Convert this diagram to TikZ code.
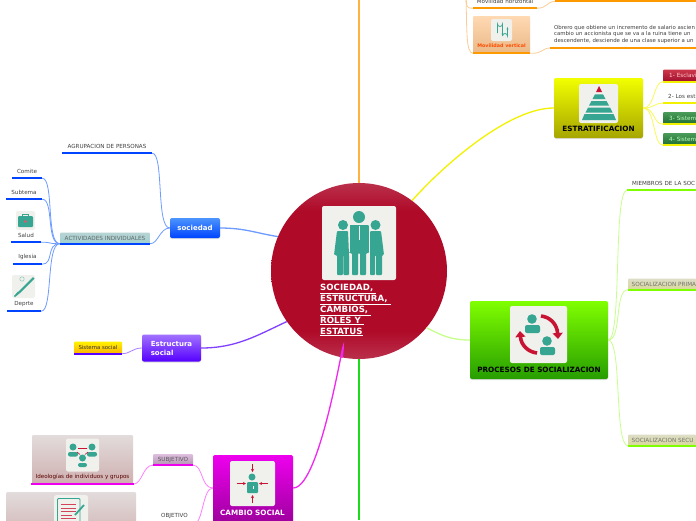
\documentclass[tikz,border=0pt]{standalone}
\usepackage{fontspec}
\setmainfont{DejaVu Sans}
\usetikzlibrary{arrows.meta,shadows}
\definecolor{crimson}{RGB}{175,10,40}
\definecolor{crimsonrim}{RGB}{186,48,76}
\definecolor{teal}{RGB}{54,166,146}
\definecolor{iconred}{RGB}{200,20,50}
\definecolor{iconbg}{RGB}{240,240,236}
\definecolor{orangeb}{RGB}{255,153,0}
\definecolor{orangel}{RGB}{250,205,150}
\definecolor{blueb}{RGB}{0,68,255}
\definecolor{bluel}{RGB}{110,155,255}
\definecolor{yellowb}{RGB}{242,242,0}
\definecolor{yellowl}{RGB}{250,250,90}
\definecolor{greenb}{RGB}{128,255,0}
\definecolor{greenl}{RGB}{200,255,140}
\definecolor{magentab}{RGB}{238,0,238}
\definecolor{magental}{RGB}{255,125,255}
\definecolor{purpleb}{RGB}{85,0,255}
\definecolor{purplel}{RGB}{170,125,255}
\definecolor{tagredt}{RGB}{205,55,75}
\definecolor{tagredb}{RGB}{160,15,45}
\definecolor{taggreent}{RGB}{75,155,90}
\definecolor{taggreenb}{RGB}{30,110,50}
\pgfdeclareverticalshading{rim}{100bp}{color(0bp)=(crimsonrim); color(25bp)=(crimsonrim); color(33bp)=(crimson); color(67bp)=(crimson); color(75bp)=(crimsonrim); color(100bp)=(crimsonrim)}

\begin{document}
\begin{tikzpicture}[x=1pt,y=-1pt,
          txt/.style={font=\fontsize{5.6}{6}\selectfont,text=black!75,inner sep=0pt,minimum height=14pt},
          tag/.style={rounded corners=1pt,inner sep=0pt,font=\fontsize{5.7}{6}\selectfont},
          box/.style={rounded corners=2pt,inner sep=0pt,drop shadow={shadow xshift=0pt,shadow yshift=-1pt,opacity=.25}},
          title/.style={font=\fontsize{7.25}{8}\selectfont\bfseries,inner sep=0pt},
          icon/.style={fill=iconbg,rounded corners=2pt,inner sep=0pt},
          main/.style={line width=1.3pt,draw=#1},
          sub/.style={line width=.8pt,draw=#1},
          bar/.style={line width=2pt,draw=#1},
          fig/.style={fill=teal,draw=none},
          redarrow/.style={-{Stealth[length=3pt,width=3pt]},iconred,line width=.6pt}
        ]
        \clip (0,0) rectangle (696,520);
        \fill[white] (0,0) rectangle (696,520);
        % links from the centre
        \coordinate (topend) at (359,0);
        \coordinate (bottomend) at (359,520);
        \node[circle,minimum size=176pt,inner sep=0pt] (centre) at (359,271) {};
        \draw[main=orangeb!75] (centre.north) -- (topend);
        \draw[main=green!85!black!90] (centre.south) -- (bottomend);
        \shade[shading=rim] (359,271) circle[radius=88];
        % centre
        \node[icon,minimum size=74pt] (people) at (359,243) {};
        \fill[fig] (359,217) circle[radius=6];
        \fill[fig,rounded corners=1pt] (349,225) -- (369,225) -- (369,253) -- (366,253) -- (366,275) -- (360,275) -- (360,253) -- (358,253) -- (358,275) -- (352,275) -- (352,253) -- (349,253) -- cycle;
        \fill[fig] (343,225) circle[radius=5];
        \fill[fig,rounded corners=1pt] (337,231) -- (348,231) -- (349,255) -- (349,275) -- (343.5,275) -- (343.5,255) -- (343,255) -- (343,275) -- (337,275) -- (337,255) -- (334,255) -- cycle;
        \fill[fig] (375.5,225) circle[radius=5];
        \fill[fig,rounded corners=1pt] (370,231) -- (381,231) -- (384,255) -- (382,255) -- (382,275) -- (376,275) -- (376,255) -- (375,255) -- (375,275) -- (370,275) -- (370,255) -- cycle;
        \draw[iconbg,line width=.5pt] (349,225) -- (349,252) (369,225) -- (369,252) (359,226) -- (359,240);
        \node[anchor=west,align=left,inner sep=0pt,text=white,font=\fontsize{8.6}{11}\selectfont\bfseries] (centretext) at (320,310)
          {\underline{SOCIEDAD, }\\\underline{ESTRUCTURA, }\\\underline{CAMBIOS, }\\\underline{ROLES Y }\\\underline{ESTATUS}};
        % sociedad
        \node[box,top color=blue!60!cyan!70,bottom color=blueb,minimum width=50pt,minimum height=20pt,text=white,font=\fontsize{7}{9}\selectfont\bfseries] (sociedad) at (195,228) {sociedad};
        \node[txt,minimum width=90pt] (agrupacion) at (107,146) {AGRUPACION DE PERSONAS};
        \node[tag,top color=cyan!25!gray!45,bottom color=cyan!35!gray!55,minimum width=90pt,minimum height=11pt,text=black!60] (actividades) at (105,238) {ACTIVIDADES INDIVIDUALES};
        \node[txt,minimum width=30pt] (comite) at (27,171) {Comite};
        \node[txt,minimum width=36pt] (subtema) at (24,192) {Subtema};
        \node[icon,minimum size=19pt] (saludicon) at (25.5,220.5) {};
        \node[txt,minimum width=30pt] (salud) at (26,235) {Salud};
        \node[txt,minimum width=29pt] (iglesia) at (27.5,257) {Iglesia};
        \node[icon,minimum size=23pt] (deporteicon) at (23.5,286.5) {};
        \node[txt,minimum width=34pt] (deporte) at (24,304) {Deprte};
        \draw[main=bluel] (sociedad.east) .. controls +(25,0) and +(-20,-3) .. (centre.157);
        \draw[sub=bluel] (sociedad.west) .. controls +(-14,0) and +(12,0) .. (agrupacion.south east);
        \draw[sub=bluel] (sociedad.west) .. controls +(-10,0) and +(8,0) .. (actividades.south east);
        \foreach \leaf in {comite,subtema,salud,iglesia,deporte}
          {\draw[sub=bluel] (actividades.south west) .. controls +(-14,0) and +(12,0) .. (\leaf.south east);
           \draw[bar=blueb] (\leaf.south west) -- (\leaf.south east);}
        \draw[bar=blueb] (agrupacion.south west) -- (agrupacion.south east);
        \draw[bar=blueb] (actividades.south west) -- (actividades.south east);
        \fill[fig,rounded corners=1pt] (18,216) rectangle (33,227);
        \draw[teal,line width=.7pt] (22.5,216) -- (22.5,214) -- (28.5,214) -- (28.5,216);
        \fill[iconred!70] (25.5,221.5) circle[radius=1.6];
        \fill[fig] (33,277) -- (34.5,278.5) -- (20,293) -- (18,292) -- cycle;
        \fill[fig] (18,291.5) -- (20,293) -- (15,297) -- (14,296) -- cycle;
        \draw[teal!60,line width=.5pt] (22,279) circle[radius=2.2];
        % estructura social
        \node[box,top color=purpleb!55,bottom color=purpleb,minimum width=59pt,minimum height=27pt,text=white,align=left,font=\fontsize{7}{9}\selectfont\bfseries] (estructura) at (171.5,348) {Estructura\\social\hspace{24pt}};
        \node[tag,top color=yellow!90!orange,bottom color=orange!60!yellow,minimum width=48pt,minimum height=12pt,text=black!80,font=\fontsize{5.4}{6}\selectfont] (sistema) at (98,347.5) {Sistema social};
        \draw[main=purpleb!75] (estructura.east) .. controls +(35,0) and +(-30,14) .. (centre.215.5);
        \draw[sub=purplel] (estructura.west) .. controls +(-9,0) and +(8,0) .. (sistema.south east);
        \draw[bar=purpleb] (sistema.south west) -- (sistema.south east);
        % estratificacion
        \node[box,top color=yellow!95!green,bottom color=yellow!65!black,minimum width=89pt,minimum height=60pt] (estrat) at (598.5,108) {};
        \node[icon,minimum size=39pt] (piramide) at (598.5,103.5) {};
        \fill[iconred] (599,86) -- (596,92) -- (602,92) -- cycle;
        \fill[fig] (595,94.3) -- (603,94.3) -- (605.5,99) -- (592.5,99) -- cycle;
        \fill[fig] (591.5,101) -- (606.5,101) -- (609,105.5) -- (589,105.5) -- cycle;
        \fill[fig] (588,107.5) -- (610,107.5) -- (612.5,112.5) -- (585.5,112.5) -- cycle;
        \fill[fig] (584.5,114) -- (613.5,114) -- (616,120) -- (582,120) -- cycle;
        \node[title] (estrattext) at (598.5,128.5) {ESTRATIFICACION};
        \node[tag,top color=tagredt,bottom color=tagredb,minimum width=40pt,minimum height=12pt,text=white!80!red,anchor=west,text width=36pt] (esclav) at (663,75.5) {\mbox{\hspace*{4pt}1- Esclavi}};
        \node[txt,anchor=west,minimum width=40pt,text width=40pt] (estamentos) at (663,96) {\mbox{\hspace*{5pt}2- Los est}};
        \node[tag,top color=taggreent,bottom color=taggreenb,minimum width=40pt,minimum height=12pt,text=white!75!green,anchor=west,text width=36pt] (casta) at (663,118) {\mbox{\hspace*{4pt}3- Sistem}};
        \node[tag,top color=taggreent,bottom color=taggreenb,minimum width=40pt,minimum height=12pt,text=white!75!green,anchor=west,text width=36pt] (clase) at (663,139) {\mbox{\hspace*{4pt}4- Sistem}};
        \draw[main=yellowb] (centre.53) .. controls +(32,-36) and +(-45,0) .. (estrat.west);
        \foreach \leaf in {esclav,estamentos,casta,clase}
          {\draw[sub=yellowl] (estrat.east) .. controls +(12,0) and +(-10,0) .. (\leaf.south west);
           \draw[bar=yellowb] (\leaf.south west) -- (\leaf.south east);}
        % movilidad
        \node[txt,minimum width=64pt] (horizontal) at (505,1) {Movilidad horizontal};
        \node[tag,top color=orange!30!white,bottom color=brown!60!orange!55,minimum width=57pt,minimum height=37pt] (vertical) at (501.5,34.5) {};
        \node[icon,minimum width=21pt,minimum height=22pt] (verticalicon) at (501.5,30) {};
        \draw[teal,line width=.8pt,-{Stealth[length=2.5pt]}] (497.5,33) -- (497.5,24) arc[start angle=180,end angle=0,radius=2.5] -- (502.5,36);
        \draw[teal,line width=.8pt,{Stealth[length=2.5pt]}-] (507.5,27) -- (507.5,36) arc[start angle=0,end angle=-180,radius=2.5];
        \node[inner sep=0pt,text=orange!60!red,font=\fontsize{4.8}{6}\selectfont\bfseries] (verticaltext) at (501.5,46) {Movilidad vertical};
        \node[anchor=north west,inner sep=0pt,minimum width=146pt,minimum height=1pt] (hbar) at (555,0) {};
        \node[anchor=north west,inner sep=0pt,align=left,text=black!75,font=\fontsize{5.4}{6.5}\selectfont] (obrero) at (554,25)
          {Obrero que obtiene un incremento de salario ascien\\cambio un accionista que se va a la ruina tiene un\\descendente, desciende de una clase superior a un};
        \node[anchor=west,inner sep=0pt,minimum width=146pt,minimum height=1pt] (obrerobar) at (550,48) {};
        \draw[sub=orangel] (horizontal.south west) .. controls +(-7,0) and +(1,8) .. (466,-2);
        \draw[sub=orangel] (vertical.south west) .. controls +(-7,0) and +(1,30) .. (466,-2);
        \draw[sub=orangel] (horizontal.south east) .. controls +(10,0) and +(-8,0) .. (hbar.south west);
        \draw[sub=orangel] (vertical.south east) .. controls +(12,1) and +(-8,0) .. (obrerobar.west);
        \draw[bar=orangeb] (horizontal.south west) -- (horizontal.south east);
        \draw[bar=orangeb] (vertical.south west) -- (vertical.south east);
        \draw[bar=orangeb] (hbar.south west) -- (hbar.south east);
        \draw[bar=orangeb] (obrerobar.west) -- (obrerobar.east);
        % procesos
        \node[box,top color=greenb,bottom color=green!55!black!85!yellow,minimum width=138pt,minimum height=78pt] (procesos) at (539,340) {};
        \node[icon,minimum size=57pt] (cicloicon) at (538.5,334.5) {};
        \fill[fig] (532,319) circle[radius=4.8];
        \fill[fig,rounded corners=2pt] (525,325) rectangle (540,333);
        \fill[fig] (547,341) circle[radius=4.8];
        \fill[fig,rounded corners=2pt] (540,347) rectangle (555,355);
        \draw[iconred,line width=3.6pt,-{Triangle[length=6pt,width=10pt]}] (541,316) .. controls (550,317) and (557,324) .. (558,339);
        \draw[iconred,line width=3.6pt,-{Triangle[length=6pt,width=10pt]}] (537,353) .. controls (528,352) and (521,345) .. (520,331);
        \node[title] (procesostext) at (539,369.5) {PROCESOS DE SOCIALIZACION};
        \node[txt,anchor=west,minimum width=69pt,text width=69pt] (miembros) at (627,183) {\mbox{\hspace*{5pt}MIEMBROS DE LA SOC}};
        \node[tag,top color=yellow!25!gray!35,bottom color=yellow!45!gray!55,minimum width=68pt,minimum height=11pt,text=black!55,anchor=west,text width=68pt] (primaria) at (628,284) {\mbox{\hspace*{3.5pt}SOCIALIZACION PRIMA}};
        \node[tag,top color=yellow!25!gray!35,bottom color=yellow!45!gray!55,minimum width=68pt,minimum height=11pt,text=black!55,anchor=west,text width=68pt] (secundaria) at (628,440) {\mbox{\hspace*{3.5pt}SOCIALIZACION SECU}};
        \draw[main=greenl] (centre.320) .. controls +(14,7) and +(-20,0) .. (procesos.west);
        \foreach \leaf in {miembros,primaria,secundaria}
          {\draw[sub=greenl] (procesos.east) .. controls +(14,0) and +(-14,0) .. (\leaf.south west);
           \draw[bar=greenb] (\leaf.south west) -- (\leaf.south east);}
        % cambio social
        \node[box,top color=magentab,bottom color=magentab!60!black,minimum width=80pt,minimum height=80pt] (cambio) at (253,495) {};
        \node[icon,minimum size=45pt] (cambioicon) at (252.5,483.5) {};
        \fill[fig] (252,477) circle[radius=3.5];
        \fill[fig,rounded corners=1pt] (247,482) rectangle (258,493);
        \fill[white] (252.5,486) rectangle (253,489);
        \draw[redarrow] (252.5,464) -- (252.5,472);
        \draw[redarrow] (252.5,503) -- (252.5,495);
        \draw[redarrow] (237,483.5) -- (246,483.5);
        \draw[redarrow] (268,483.5) -- (259,483.5);
        \node[title,text=white] (cambiotext) at (252.5,512.5) {CAMBIO SOCIAL};
        \node[tag,top color=violet!25,bottom color=violet!40!gray!60,minimum width=40pt,minimum height=11pt,text=black!65] (subjetivo) at (173,459.5) {SUBJETIVO};
        \node[txt,minimum width=40pt] (objetivo) at (174.5,516) {OBJETIVO};
        \node[tag,top color=red!10!gray!25,bottom color=red!25!gray!50,minimum width=101pt,minimum height=49pt] (ideologias) at (82.5,459.5) {};
        \node[icon,minimum size=33pt] (ideologiasicon) at (82.5,455) {};
        \node[inner sep=0pt,text=black!65!red,font=\fontsize{5.6}{6}\selectfont] (ideologiastext) at (82.5,477) {Ideologías de individuos y grupos};
        \fill[fig] (73,447) circle[radius=3.5];
        \fill[fig,rounded corners=2pt] (68,452) rectangle (78,456.5);
        \fill[fig] (92,447) circle[radius=3.5];
        \fill[fig,rounded corners=2pt] (87,452) rectangle (97,456.5);
        \fill[fig] (82.5,458) circle[radius=3.5];
        \fill[fig,rounded corners=2pt] (78,463) rectangle (87,467);
        \draw[iconred,line width=.6pt] (78,448.5) -- (87,448.5) (77,452) -- (80,454.5) (88,452) -- (85,454.5);
        \node[tag,top color=red!10!gray!25,bottom color=red!25!gray!50,minimum width=130pt,minimum height=50pt,anchor=north west] (objbox) at (6,492) {};
        \node[icon,minimum width=34pt,minimum height=40pt,anchor=north] (objicon) at (71,495) {};
        \draw[teal,line width=.9pt,rounded corners=1pt] (57.5,498.5) rectangle (80,530);
        \draw[iconred!80,line width=.8pt] (61,504) -- (76,504) (61,508) -- (76,508) (61,511.5) -- (76,511.5) (61,515) -- (72,515) (61,518.5) -- (76,518.5);
        \draw[teal,line width=1.8pt] (84,505) -- (75,515);
        \draw[main=magentab!85] (cambio.east) ++(0,-7) .. controls +(30,0) and +(7,-60) .. (centre.259);
        \draw[sub=magental] (cambio.west) ++(0,-7) .. controls +(-12,0) and +(10,0) .. (subjetivo.south east);
        \draw[sub=magental] (cambio.west) ++(0,-7) .. controls +(-10,0) and +(8,0) .. (objetivo.south east);
        \draw[sub=magental] (subjetivo.south west) .. controls +(-10,0) and +(9,0) .. (ideologias.south east);
        \draw[bar=magentab] (subjetivo.south west) -- (subjetivo.south east);
        \draw[bar=magentab] (objetivo.south west) -- (objetivo.south east);
        \draw[bar=magentab] (ideologias.south west) ++(-1,0) -- ++(103,0);
      \end{tikzpicture}
\end{document}
